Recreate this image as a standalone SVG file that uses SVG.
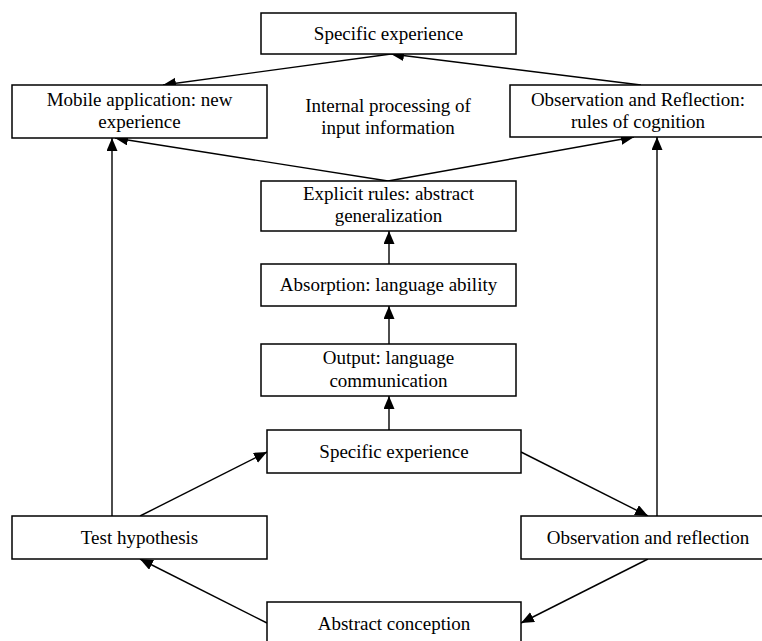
<svg xmlns="http://www.w3.org/2000/svg" width="762" height="641" viewBox="0 0 762 641">
<style>
.box{fill:#fff;stroke:#000;stroke-width:1.5}
.t{font-family:"Liberation Serif","Times New Roman",serif;font-size:19px;fill:#000;text-anchor:middle}
.c{stroke:#000;stroke-width:1.4;fill:none;marker-end:url(#ah)}
</style>
<defs>
<marker id="ah" markerUnits="userSpaceOnUse" markerWidth="14" markerHeight="12" refX="13" refY="5.5" orient="auto">
<path d="M0,0 L13,5.5 L0,11 z" fill="#000"/>
</marker>
</defs>
<rect width="762" height="641" fill="#fff"/>
<g id="connectors">
<line class="c" x1="641" y1="85" x2="391" y2="54"/>
<line class="c" x1="391" y1="54" x2="163" y2="85"/>
<line class="c" x1="388" y1="181" x2="115" y2="138"/>
<line class="c" x1="388" y1="181" x2="634" y2="137"/>
<line class="c" x1="389" y1="264" x2="389" y2="231"/>
<line class="c" x1="389" y1="344" x2="389" y2="306"/>
<line class="c" x1="389" y1="430" x2="389" y2="396"/>
<line class="c" x1="112" y1="516" x2="112" y2="138"/>
<line class="c" x1="140" y1="516" x2="267" y2="452"/>
<line class="c" x1="521" y1="452" x2="648" y2="516"/>
<line class="c" x1="657" y1="516" x2="657" y2="137"/>
<line class="c" x1="648" y1="559" x2="521" y2="623"/>
<line class="c" x1="267" y1="623" x2="140" y2="559"/>
</g>
<g id="n-specific-top">
<rect class="box" x="261" y="13" width="255" height="41"/>
<text class="t" x="388.5" y="40">Specific experience</text>
</g>
<g id="n-mobile">
<rect class="box" x="12" y="85" width="255" height="53"/>
<text class="t" x="139.5" y="106">Mobile application: new</text>
<text class="t" x="139.5" y="128">experience</text>
</g>
<g id="n-internal">
<text class="t" x="388" y="112">Internal processing of</text>
<text class="t" x="388" y="134">input information</text>
</g>
<g id="n-obs-rules">
<rect class="box" x="510" y="85" width="256" height="52"/>
<text class="t" x="638" y="106">Observation and Reflection:</text>
<text class="t" x="638" y="128">rules of cognition</text>
</g>
<g id="n-explicit">
<rect class="box" x="261" y="181" width="255" height="50"/>
<text class="t" x="388.5" y="200">Explicit rules: abstract</text>
<text class="t" x="388.5" y="222">generalization</text>
</g>
<g id="n-absorption">
<rect class="box" x="261" y="264" width="255" height="42"/>
<text class="t" x="388.5" y="291">Absorption: language ability</text>
</g>
<g id="n-output">
<rect class="box" x="261" y="344" width="255" height="52"/>
<text class="t" x="388.5" y="364">Output: language</text>
<text class="t" x="388.5" y="387">communication</text>
</g>
<g id="n-specific-bottom">
<rect class="box" x="267" y="430" width="254" height="43"/>
<text class="t" x="394" y="458">Specific experience</text>
</g>
<g id="n-test">
<rect class="box" x="12" y="516" width="255" height="43"/>
<text class="t" x="139.5" y="544">Test hypothesis</text>
</g>
<g id="n-obs-refl">
<rect class="box" x="521" y="516" width="254" height="43"/>
<text class="t" x="648" y="544">Observation and reflection</text>
</g>
<g id="n-abstract">
<rect class="box" x="267" y="602" width="254" height="43"/>
<text class="t" x="394" y="630">Abstract conception</text>
</g>
</svg>
